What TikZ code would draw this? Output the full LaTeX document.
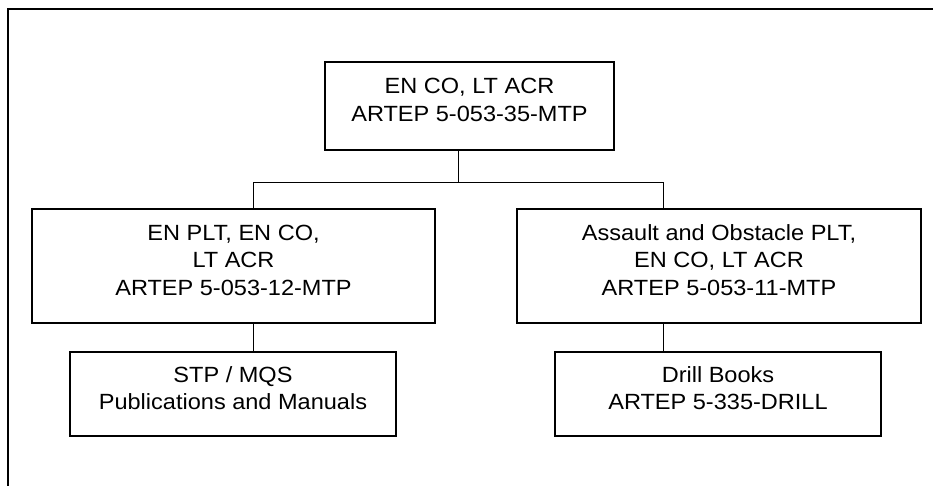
\documentclass[tikz,border=0pt]{standalone}
\usepackage{fontspec}
\setmainfont[FakeStretch=1.07]{Liberation Sans}
\tikzset{
    riquadro/.style={draw, line width=1.2pt, align=center, text depth=12pt,
        font=\fontsize{22}{27.5}\selectfont},
    linea/.style={line width=1pt}
}
\begin{document}
\begin{tikzpicture}[x=1pt, y=-1pt]
    \useasboundingbox (0,0) rectangle (933,485);
    \clip (0,0) rectangle (933,485);

    % Cornice
    \draw[line width=2pt] (8,9) rectangle (950,500);

    % Riquadri
    \node[riquadro, minimum width=289pt, minimum height=88pt] (top) at (469.5,106)
        {EN CO, LT ACR\\ARTEP 5-053-35-MTP};
    \node[riquadro, minimum width=403pt, minimum height=114pt] (plt) at (233.5,266)
        {EN PLT, EN CO,\\LT ACR\\ARTEP 5-053-12-MTP};
    \node[riquadro, minimum width=404pt, minimum height=114pt] (aop) at (719,266)
        {Assault and Obstacle PLT,\\EN CO, LT ACR\\ARTEP 5-053-11-MTP};
    \node[riquadro, minimum width=326pt, minimum height=84pt] (stp) at (233,394)
        {STP / MQS\\Publications and Manuals};
    \node[riquadro, minimum width=326pt, minimum height=84pt] (drill) at (718,394)
        {Drill Books\\ARTEP 5-335-DRILL};

    % Collegamenti
    \coordinate (split) at (458,182);
    \coordinate (jl) at (253,182);
    \coordinate (jr) at (663,182);
    \draw[linea] (top.south -| split) -- (split);
    \draw[linea] (plt.north -| jl) -- (jl) -- (jr) -- (aop.north -| jr);
    \draw[linea] (plt.south -| jl) -- (stp.north -| jl);
    \draw[linea] (aop.south -| jr) -- (drill.north -| jr);
\end{tikzpicture}
\end{document}
